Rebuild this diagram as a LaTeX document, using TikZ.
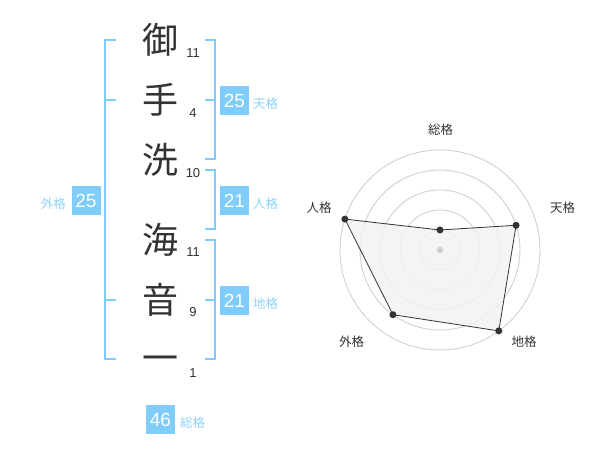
\documentclass[tikz,border=0pt]{standalone}
\usepackage{fontspec}
\setmainfont{Liberation Sans}
\newfontfamily\cjk{Noto Sans CJK JP}
\definecolor{brblue}{RGB}{128,204,250}
\definecolor{lblblue}{RGB}{140,210,250}
\definecolor{ink}{RGB}{51,51,51}
\definecolor{ring}{RGB}{208,208,208}
\definecolor{polyfill}{RGB}{242,242,242}
\tikzset{
  br/.style={draw=brblue, line width=2pt},
  kanji/.style={inner sep=0pt, text=ink, font=\cjk\fontsize{36}{36}\selectfont},
  strokes/.style={inner sep=0pt, text=ink, font=\fontsize{13}{13}\selectfont},
  numbox/.style={fill=brblue, text=white, minimum size=29pt, inner sep=0pt, font=\fontsize{19}{19}\selectfont},
  lbl/.style={inner sep=0pt, text=lblblue, font=\cjk\fontsize{12.5}{12.5}\selectfont},
  radarlbl/.style={inner sep=0pt, text=ink, font=\cjk\fontsize{12.5}{12.5}\selectfont},
  ringline/.style={draw=ring, line width=0.9pt},
  dot/.style={circle, fill=ink, inner sep=0pt, minimum size=7pt},
}
\begin{document}
\begin{tikzpicture}[x=1pt,y=-1pt]
\useasboundingbox (0,0) rectangle (600,470);
% characters
\node[kanji] (c1) at (160,40) {御};
\node[kanji] (c2) at (160,100) {手};
\node[kanji] (c3) at (160,160) {洗};
\node[kanji] (c4) at (160,240) {海};
\node[kanji] (c5) at (160,300) {音};
\node[kanji] (c6) at (160,364) {一};
% stroke counts
\node[strokes] (s1) at (193,53) {11};
\node[strokes] (s2) at (193,113) {4};
\node[strokes] (s3) at (193,173) {10};
\node[strokes] (s4) at (193,252) {11};
\node[strokes] (s5) at (193,312) {9};
\node[strokes] (s6) at (193,373) {1};
% left bracket (gaikaku)
\draw[br] (116,40) -- (105,40) -- (105,359) -- (116,359);
\draw[br] (105,100) -- (116,100);
\draw[br] (105,300) -- (116,300);
% right brackets
\draw[br] (205,40) -- (215,40) -- (215,159) -- (205,159);
\draw[br] (205,100) -- (215,100);
\draw[br] (205,170) -- (215,170) -- (215,229) -- (205,229);
\draw[br] (205,240) -- (215,240) -- (215,359) -- (205,359);
\draw[br] (205,300) -- (215,300);
% value boxes
\node[numbox] (ten) at (234.5,100.5) {25};
\node[lbl, anchor=west] (tenl) at (253,104) {天格};
\node[numbox] (jin) at (234.5,200.5) {21};
\node[lbl, anchor=west] (jinl) at (253,204) {人格};
\node[numbox] (chi) at (234.5,300.5) {21};
\node[lbl, anchor=west] (chil) at (253,304) {地格};
\node[numbox] (gai) at (86,200.5) {25};
\node[lbl, anchor=east] (gail) at (66,204) {外格};
\node[numbox] (sou) at (160.5,419.5) {46};
\node[lbl, anchor=west] (soul) at (180,423) {総格};
% radar chart
\begin{scope}[shift={(440,250)}]
  \foreach \r in {20,40,60,80,100} \draw[ringline] (0,0) circle[radius=\r];
  \coordinate (pS) at (-90:20);
  \coordinate (pT) at (-18:80);
  \coordinate (pC) at (54:100);
  \coordinate (pG) at (126:80);
  \coordinate (pJ) at (198:100);
  \filldraw[fill=polyfill, fill opacity=0.85, draw=ink, line width=0.8pt]
    (pS) -- (pT) -- (pC) -- (pG) -- (pJ) -- cycle;
  \node[circle, fill=ring, inner sep=0pt, minimum size=6.5pt] (ctr) at (0,0) {};
  \node[dot] (dS) at (pS) {};
  \node[dot] (dT) at (pT) {};
  \node[dot] (dC) at (pC) {};
  \node[dot] (dG) at (pG) {};
  \node[dot] (dJ) at (pJ) {};
\end{scope}
\node[radarlbl] (rS) at (440.5,130) {総格};
\node[radarlbl] (rT) at (562.5,208) {天格};
\node[radarlbl] (rC) at (524,341.5) {地格};
\node[radarlbl] (rG) at (351.5,341.5) {外格};
\node[radarlbl] (rJ) at (319,208) {人格};
\end{tikzpicture}
\end{document}
